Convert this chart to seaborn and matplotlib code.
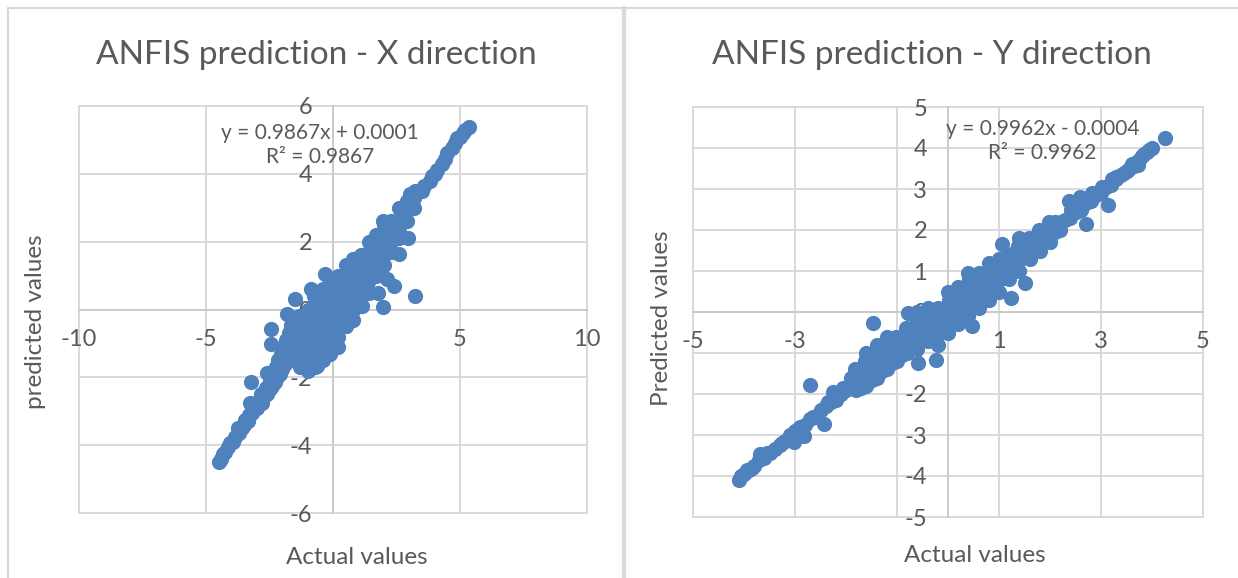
import matplotlib
matplotlib.use("Agg")
import matplotlib.pyplot as plt
import seaborn as sns

# ---- X direction (left chart) ----
x_actual = [
    # lower tail
    -4.50, -4.40, -4.35, -4.25, -4.15, -4.05, -3.95, -3.85, -3.75, -3.70,
    -3.60, -3.50, -3.45, -3.35, -3.30, -3.25, -3.20, -3.10, -3.05, -3.00,
    -2.90, -2.85, -2.80, -2.70, -2.65, -2.60, -2.50, -2.50, -2.40, -2.35,
    -2.30, -2.25, -2.20, -2.15, -2.10, -2.05, -2.00, -1.95, -1.90, -1.85,
    -1.80, -1.75, -1.70, -1.65,
    # upper-left strays
    -3.24, -2.61, -2.45, -2.45, -1.82, -1.51, -0.88, -0.33,
    # central blob
    -1.55, -1.60, -1.58, -1.62,
    -1.30, -1.28, -1.33, -1.30, -1.26, -1.32,
    -1.00, -0.98, -1.03, -1.00, -0.96, -1.02, -0.99,
    -0.70, -0.68, -0.72, -0.70, -0.66, -0.71, -0.69, -0.73,
    -0.40, -0.42, -0.38, -0.41, -0.40, -0.37, -0.43, -0.40,
    -0.10, -0.12, -0.08, -0.11, -0.10, -0.07, -0.13, -0.10,
    0.20, 0.18, 0.22, 0.19, 0.20, 0.23, 0.17, 0.20,
    0.50, 0.48, 0.52, 0.49, 0.53, 0.47, 0.50,
    0.80, 0.78, 0.82, 0.79, 0.83, 0.77, 0.80,
    1.10, 1.08, 1.12, 1.09, 1.13, 1.10,
    1.40, 1.38, 1.42, 1.39, 1.43, 1.40,
    1.70, 1.68, 1.72, 1.69, 1.71,
    2.00, 1.98, 2.02, 1.99, 2.01,
    2.30, 2.28, 2.32, 2.30,
    2.60, 2.58, 2.62, 2.60,
    2.90, 2.88, 2.92,
    3.20, 3.18, 3.22,
    # lower-right strays
    3.21, 1.95, 2.42, 2.11, 1.79, 1.16, 2.97, 2.58, 1.95, -0.64, -0.09, 0.53, 3.05,
    # upper tail
    3.50, 3.60, 3.80, 3.90, 4.00, 4.10, 4.30, 4.40, 4.50, 4.70,
    4.80, 4.90, 5.00, 5.10, 5.20, 5.35,
]
x_predicted = [
    -4.50, -4.40, -4.25, -4.20, -4.05, -3.95, -3.90, -3.75, -3.50, -3.65,
    -3.50, -3.40, -3.25, -3.30, -3.10, -2.75, -3.05, -2.95, -2.75, -2.90,
    -2.70, -2.50, -2.75, -2.55, -2.30, -2.50, -2.35, -2.10, -2.25, -1.90,
    -2.15, -1.70, -2.00, -1.50, -1.90, -1.30, -1.75, -1.10, -1.60, -0.90,
    -1.50, -0.70, -1.35, -0.45,
    -2.15, -1.86, -1.02, -0.58, -0.14, 0.30, 0.60, 1.04,
    -1.5, -1.2, -0.9, -0.6,
    -1.7, -1.4, -1.1, -0.8, -0.5, -0.2,
    -1.8, -1.5, -1.2, -0.9, -0.6, -0.3, 0.0,
    -1.7, -1.4, -1.1, -0.8, -0.5, -0.2, 0.2, 0.4,
    -1.5, -1.2, -0.9, -0.6, -0.3, 0.0, 0.3, 0.6,
    -1.3, -1.0, -0.7, -0.4, -0.1, 0.2, 0.5, 0.8,
    -1.1, -0.8, -0.5, -0.2, 0.1, 0.4, 0.7, 1.0,
    -0.5, -0.2, 0.1, 0.4, 0.7, 1.0, 1.3,
    -0.3, 0.0, 0.3, 0.6, 0.9, 1.2, 1.5,
    0.1, 0.4, 0.7, 1.0, 1.3, 1.6,
    0.5, 0.8, 1.1, 1.4, 1.7, 2.0,
    1.0, 1.3, 1.6, 1.9, 2.2,
    1.3, 1.6, 1.9, 2.2, 2.5,
    1.7, 2.0, 2.3, 2.6,
    2.1, 2.4, 2.7, 3.0,
    2.6, 2.9, 3.2,
    3.0, 3.3, 3.5,
    0.40, 0.06, 0.70, 0.89, 0.50, 0.11, 2.12, 1.63, 2.61, -1.66, -1.12, -0.48, 3.40,
    3.50, 3.65, 3.80, 3.95, 4.00, 4.10, 4.30, 4.45, 4.60, 4.75,
    4.90, 5.05, 5.10, 5.20, 5.30, 5.38,
]

# ---- Y direction (right chart) ----
y_actual = [
    # lower tail
    -4.10, -4.05, -4.00, -3.95, -3.90, -3.80, -3.70, -3.68, -3.60, -3.50,
    -3.40, -3.30, -3.20, -3.10, -3.02, -3.00, -2.90, -2.83, -2.80, -2.70,
    -2.60, -2.50, -2.44, -2.40, -2.30, -2.25, -2.20, -2.10, -2.00, -1.90, -1.90,
    -3.85, -3.55, -3.25, -2.95, -2.65, -2.35, -2.15, -2.05,
    # strays
    -2.71, -1.47, -0.78, -0.23, -0.58, 0.47, 1.05, 1.51, 2.71, 3.14, 1.24,
    # middle band
    -1.80, -1.78, -1.82,
    -1.60, -1.58, -1.62, -1.60,
    -1.40, -1.38, -1.42, -1.40,
    -1.20, -1.18, -1.22, -1.20,
    -1.00, -0.98, -1.02,
    -0.80, -0.78, -0.82,
    -0.60, -0.58, -0.62, -0.60,
    -0.40, -0.38, -0.42, -0.40,
    -0.20, -0.18, -0.22, -0.20,
    0.00, 0.02, -0.02, 0.01, 0.00,
    0.20, 0.22, 0.18, 0.20,
    0.40, 0.42, 0.38, 0.41, 0.40,
    0.60, 0.62, 0.58, 0.60,
    0.80, 0.82, 0.78, 0.80,
    1.00, 1.02, 0.98, 1.00,
    1.20, 1.22, 1.18,
    1.40, 1.42, 1.38, 1.40,
    1.60, 1.62, 1.58,
    1.80, 1.82, 1.78,
    2.00, 2.02, 1.98,
    2.20, 2.22,
    2.40, 2.42, 2.38,
    2.60, 2.62, 2.58,
    2.80, 2.82,
    3.00, 3.02,
    3.20, 3.22,
    -1.70, -1.70, -1.50, -1.50, -1.30, -1.30, -1.10, -1.10, -0.90, -0.90,
    -0.70, -0.70, -0.50, -0.50, -0.30, -0.30, -0.10, -0.10, 0.10, 0.10,
    0.30, 0.30, 0.50, 0.50, 0.70, 0.70, 0.90, 0.90, 1.10, 1.10,
    1.30, 1.30, 1.50, 1.50, 1.70, 1.70, 1.90, 1.90, 2.10, 2.10,
    2.30, 2.50, 2.70, 2.90, 3.10, 3.30,
    # upper tail
    3.40, 3.50, 3.60, 3.70, 3.72, 3.80, 3.90, 4.00, 4.26,
    3.30, 3.45, 3.55, 3.65, 3.75, 3.85, 3.95,
]
y_predicted = [
    -4.10, -4.00, -3.95, -3.85, -3.85, -3.75, -3.60, -3.47, -3.55, -3.45,
    -3.35, -3.25, -3.15, -3.00, -3.18, -2.90, -2.80, -3.02, -2.75, -2.60,
    -2.55, -2.40, -2.73, -2.30, -2.20, -1.95, -2.15, -2.00, -1.90, -1.80, -1.62,
    -3.80, -3.45, -3.20, -2.85, -2.55, -2.20, -2.05, -1.85,
    -1.79, -0.27, -0.02, -1.17, -1.25, -0.35, 1.66, 0.71, 2.15, 2.60, 0.34,
    -1.9, -1.6, -1.4,
    -1.8, -1.5, -1.2, -1.0,
    -1.6, -1.3, -1.0, -0.8,
    -1.4, -1.1, -0.8, -0.6,
    -1.2, -0.9, -0.6,
    -1.0, -0.7, -0.4,
    -0.9, -0.6, -0.3, 0.0,
    -0.7, -0.4, -0.1, 0.1,
    -0.8, -0.5, -0.2, 0.1,
    -0.5, -0.2, 0.1, 0.3, 0.5,
    -0.3, 0.0, 0.3, 0.6,
    -0.1, 0.2, 0.5, 0.8, 0.95,
    0.1, 0.4, 0.7, 0.95,
    0.3, 0.6, 0.9, 1.2,
    0.5, 0.8, 1.1, 1.3,
    0.8, 1.1, 1.4,
    1.0, 1.3, 1.6, 1.8,
    1.3, 1.6, 1.8,
    1.5, 1.8, 2.0,
    1.7, 2.0, 2.2,
    2.0, 2.2,
    2.3, 2.5, 2.7,
    2.5, 2.7, 2.8,
    2.7, 2.9,
    2.9, 3.05,
    3.1, 3.25,
    -1.85, -1.55, -1.65, -1.35, -1.45, -1.15, -1.25, -0.95, -1.05, -0.75,
    -0.85, -0.55, -0.65, -0.35, -0.45, -0.15, -0.30, 0.05, -0.05, 0.25,
    0.15, 0.45, 0.35, 0.65, 0.55, 0.85, 0.75, 1.05, 0.95, 1.25,
    1.15, 1.45, 1.35, 1.65, 1.55, 1.80, 1.75, 2.00, 1.95, 2.20,
    2.25, 2.45, 2.65, 2.85, 3.05, 3.25,
    3.35, 3.45, 3.60, 3.65, 3.58, 3.80, 3.90, 4.00, 4.25,
    3.30, 3.40, 3.50, 3.55, 3.70, 3.85, 3.95,
]

x_xticks = [-10, -5, 0, 5, 10]
x_yticks = [-6, -4, -2, 0, 2, 4, 6]
y_xticks = [-5, -3, -1, 1, 3, 5]
y_yticks = [-5, -4, -3, -2, -1, 0, 1, 2, 3, 4, 5]

titles = ["ANFIS prediction - X direction", "ANFIS prediction - Y direction"]
ylabels = ["predicted values", "Predicted values"]
equations = ["y = 0.9867x + 0.0001\nR\u00b2 = 0.9867", "y = 0.9962x - 0.0004\nR\u00b2 = 0.9962"]

sns.set_style("white")
plt.rcParams['font.family'] = ['Lato', 'DejaVu Sans']
plt.rcParams['axes.unicode_minus'] = False

TEXT = '#595959'
GRID = '#D9D9D9'
BLUE = '#4F81BD'

W, H = 1238, 578
fig = plt.figure(figsize=(W / 100, H / 100), dpi=100)


def px_axes(x0, x1, y0, y1):
    # pixel box measured from the top-left corner -> figure fractions
    return fig.add_axes([x0 / W, 1 - y1 / H, (x1 - x0) / W, (y1 - y0) / H])


def draw_panel(ax, actual, pred, xticks, yticks, eq, eq_xy):
    ax.set_xlim(xticks[0], xticks[-1])
    ax.set_ylim(yticks[0], yticks[-1])
    # gridlines drawn by hand so the tick labels can sit above the markers
    for t in xticks:
        ax.axvline(t, color=GRID, lw=1.4, zorder=0.5, clip_on=False)
    for t in yticks:
        ax.axhline(t, color=GRID, lw=1.4, zorder=0.5, clip_on=False)
    sns.scatterplot(x=actual, y=pred, ax=ax, color=BLUE, s=120, linewidth=0,
                    zorder=1, legend=False)
    ax.set_xticks(xticks)
    ax.set_yticks(yticks)
    ax.spines['top'].set_visible(False)
    ax.spines['right'].set_visible(False)
    for side in ['left', 'bottom']:
        ax.spines[side].set_position(('data', 0))
        ax.spines[side].set_color('#CBCBCB')
        ax.spines[side].set_linewidth(1.4)
        ax.spines[side].set_zorder(0.6)
    ax.tick_params(length=0, labelsize=17, colors=TEXT)
    ax.tick_params(axis='x', pad=14)
    ax.tick_params(axis='y', pad=15)
    ax.set_xlabel('')
    ax.set_ylabel('')
    ax.text(eq_xy[0], eq_xy[1], eq, ha='center', va='center', fontsize=15,
            color=TEXT, linespacing=1.2)


ax1 = px_axes(79, 587, 106, 513)
draw_panel(ax1, x_actual, x_predicted, x_xticks, x_yticks, equations[0], (-0.5, 4.85))

ax2 = px_axes(693, 1203, 107, 517)
draw_panel(ax2, y_actual, y_predicted, y_xticks, y_yticks, equations[1], (1.85, 4.17))

# titles and axis titles
fig.text(316 / W, 1 - 55 / H, titles[0], ha='center', va='center', fontsize=24, color=TEXT)
fig.text(932 / W, 1 - 55 / H, titles[1], ha='center', va='center', fontsize=24, color=TEXT)
fig.text(357 / W, 1 - 558 / H, "Actual values", ha='center', va='center', fontsize=17.5, color=TEXT)
fig.text(975 / W, 1 - 556 / H, "Actual values", ha='center', va='center', fontsize=17.5, color=TEXT)
fig.text(36 / W, 1 - 322 / H, ylabels[0], ha='center', va='center', rotation=90, fontsize=17.5, color=TEXT)
fig.text(661 / W, 1 - 318 / H, ylabels[1], ha='center', va='center', rotation=90, fontsize=17.5, color=TEXT)

# chart borders
fig.add_artist(plt.Line2D([8 / W, 1], [1 - 8 / H, 1 - 8 / H], color=GRID, lw=1.5))
fig.add_artist(plt.Line2D([8 / W, 8 / W], [0, 1 - 8 / H], color=GRID, lw=1.5))
fig.add_artist(plt.Line2D([624 / W, 624 / W], [0, 1 - 8 / H], color=GRID, lw=3))

fig.savefig("out.png", dpi=100)
